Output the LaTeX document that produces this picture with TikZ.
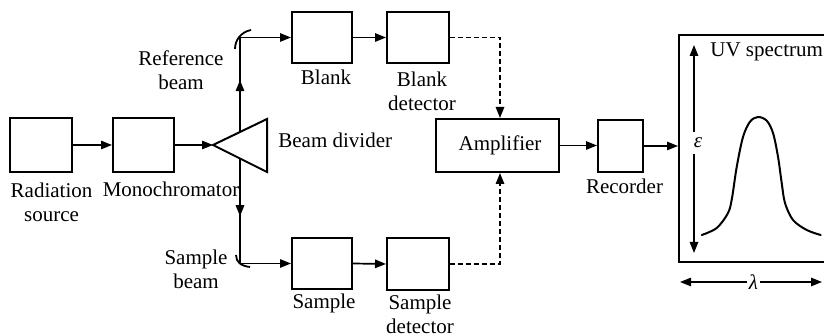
\documentclass[tikz,border=0pt]{standalone}
\usepackage{fontspec}
\setmainfont{Liberation Serif}
\usetikzlibrary{arrows.meta,decorations.markings}
\begin{document}
\begin{tikzpicture}[x=0.5pt,y=-0.5pt,
  font=\fontsize{10.5pt}{12pt}\selectfont,
  box/.style={draw, line width=1pt, inner sep=0pt},
  lbl/.style={inner sep=0pt, align=center},
  tip/.style={-{Triangle[length=5.5pt,width=4.2pt]}},
  conn/.style={line width=0.85pt},
  dashconn/.style={line width=0.85pt, dash pattern=on 2.5pt off 1.5pt},
  midarrow/.style={line width=0.85pt, postaction={decorate}, decoration={markings, mark=at position 0.55 with {\arrow{Triangle[length=5.5pt,width=4.2pt]}}}}
]
\useasboundingbox (0,0) rectangle (824,336);

% boxes
\node[box, minimum width=31pt, minimum height=27pt] (rs) at (41,145) {};
\node[box, minimum width=30.5pt, minimum height=27pt] (mono) at (143.5,145) {};
\node[box, minimum width=30pt, minimum height=25.5pt] (blank) at (322,37.5) {};
\node[box, minimum width=31pt, minimum height=25.5pt] (bdet) at (418,37.5) {};
\node[box, minimum width=30pt, minimum height=25.5pt] (sample) at (322,263.5) {};
\node[box, minimum width=31pt, minimum height=26pt] (sdet) at (418,264) {};
\node[box, minimum width=61.5pt, minimum height=26.5pt] (amp) at (497.5,145.5) {};
\node[box, minimum width=22.5pt, minimum height=26pt] (rec) at (620.5,146) {};
\node[box, minimum width=73.5pt, minimum height=113.5pt] (spec) at (752.5,148.5) {};

% beam divider
\coordinate (tritip) at (213,145);
\coordinate (tritop) at (267,119);
\coordinate (tribot) at (267,172);
\draw[line width=1pt, line join=miter] (tritop) -- (tritip) -- (tribot) -- cycle;
\coordinate (dtop) at (240,132);
\coordinate (dbot) at (240,158.5);
\coordinate (ctop) at (240,37.5);
\coordinate (cbot) at (240,263.5);

% mirrors
\draw[line width=0.9pt] (235,49) .. controls (235,40) and (241,32) .. (251,30);
\draw[line width=0.9pt] (236,255) .. controls (236,262) and (241,266) .. (250,267);

% labels
\node[lbl, anchor=north] (l_rs) at (51.5,183) {Radiation\\source};
\node[lbl, anchor=base] (l_mono) at (171,197) {Monochromator};
\node[lbl, anchor=north] (l_ref) at (181,50) {Reference\\beam};
\node[lbl, anchor=base] (l_blank) at (326,85) {Blank};
\node[lbl, anchor=north] (l_bdet) at (422,72) {Blank\\detector};
\node[lbl, anchor=base west] (l_div) at (278,148) {Beam divider};
\node[lbl, anchor=base] (l_amp) at (500,151) {Amplifier};
\node[lbl, anchor=base] (l_rec) at (624.5,194) {Recorder};
\node[lbl, anchor=north] (l_sb) at (196,250) {Sample\\beam};
\node[lbl, anchor=base] (l_sample) at (324,308) {Sample};
\node[lbl, anchor=north] (l_sdet) at (420,295) {Sample\\detector};
\node[lbl, anchor=base west] (l_uv) at (710,57) {UV spectrum};

% connectors
\draw[conn, tip] (rs.east) -- (mono.west);
\draw[conn, tip] (mono.east) -- (tritip);
\draw[midarrow] (dtop) -- (ctop);
\draw[conn, tip] (ctop) -- (blank.west);
\draw[midarrow] (dbot) -- (cbot);
\draw[conn, tip] (cbot) -- (sample.west);
\draw[conn, tip] (blank.east) -- (bdet.west);
\draw[conn, tip] (sample.east) -- (sdet.west);
\draw[dashconn, tip] (bdet.east) -| ([xshift=1.25pt]amp.north);
\draw[dashconn, tip] (sdet.east) -| ([xshift=1.25pt]amp.south);
\draw[conn, tip] (amp.east) -- (amp.east -| rec.west);
\draw[conn, tip] (rec.east) -- (rec.east -| spec.west);

% spectrum axes
\node[inner xsep=0pt, inner ysep=3pt, font=\fontsize{10.5pt}{12pt}\selectfont\itshape] (eps) at (698,143) {ε};
\coordinate (etop) at (694,45);
\coordinate (ebot) at (694,253);
\draw[conn, tip] (etop |- eps.north) -- (etop);
\draw[conn, tip] (ebot |- eps.south) -- (ebot);
\node[inner xsep=1pt, inner ysep=0pt, font=\fontsize{10.5pt}{12pt}\selectfont\itshape] (lam) at (753.5,282) {λ};
\coordinate (lleft) at (680,282);
\coordinate (lright) at (822,282);
\draw[conn, tip] (lam.west) -- (lleft);
\draw[conn, tip] (lam.east) -- (lright);

% spectrum curve
\draw[line width=1pt, line cap=round] plot[smooth, tension=0.55] coordinates {
  (701.7,235) (716.7,228) (728,213) (732,198) (736.7,167) (743,137) (750,121.7) (758,117)
  (766.7,120.7) (773,133) (778,156.7) (781.7,183) (785,203) (793,220) (806.7,230) (820.7,235)};
\end{tikzpicture}
\end{document}
